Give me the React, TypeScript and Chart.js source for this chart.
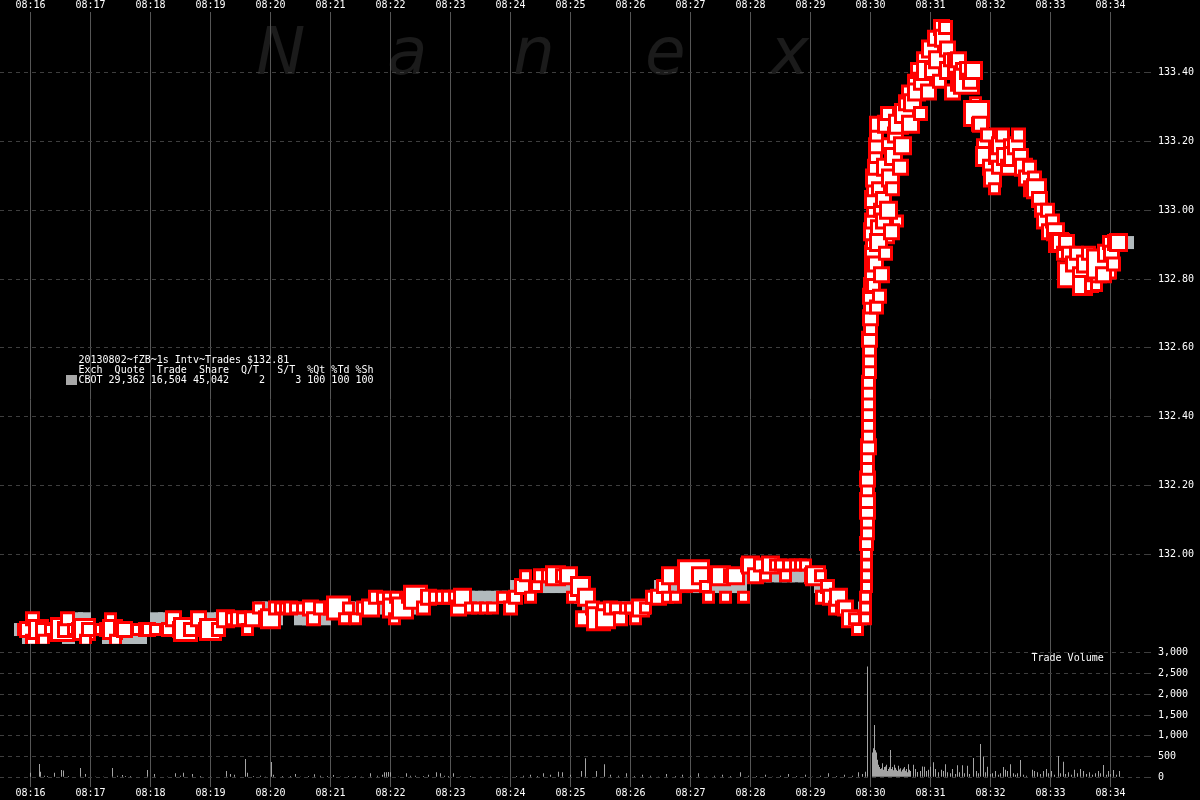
import React, { useEffect, useRef } from "react";
import { Chart, registerables } from "chart.js";

Chart.register(...registerables);

// ---------- labels ----------
const timeLabels = [
  "08:16", "08:17", "08:18", "08:19", "08:20", "08:21", "08:22", "08:23", "08:24", "08:25",
  "08:26", "08:27", "08:28", "08:29", "08:30", "08:31", "08:32", "08:33", "08:34",
];
const priceTicks = [132.0, 132.2, 132.4, 132.6, 132.8, 133.0, 133.2, 133.4];
const volumeTicks = [0, 500, 1000, 1500, 2000, 2500, 3000];

const legendTitle = "20130802~fZB~1s Intv~Trades $132.81";
const legendHeader = "Exch  Quote  Trade  Share  Q/T   S/T  %Qt %Td %Sh";
const legendRow = "CBOT 29,362 16,504 45,042     2     3 100 100 100";
const watermarkLetters = ["N", "a", "n", "e", "x"];
const volumeTitle = "Trade Volume";

// ---------- trades (seconds after 08:16:00, price, contracts) ----------
const tradeSec = [
  -7, -3, 1, 2, 8, 12, 13, 20, 27, 32,
  35, 37, 43, 48, 54, 55, 58, 70, 76, 80,
  82, 85, 90, 94, 107, 115, 118, 125, 138, 143,
  150, 155, 160, 168, 175, 180, 188, 195, 202, 208,
  213, 217, 222, 228, 236, 240, 245, 250, 255, 260,
  265, 272, 280, 283, 290, 300, 308, 314, 318, 325,
  333, 340, 345, 352, 358, 362, 364, 365, 372, 377,
  385, 393, 398, 405, 412, 418, 425, 428, 432, 440,
  447, 455, 462, 472, 480, 485, 492, 495, 500, 506,
  510, 518, 525, 532, 538, 542, 550, 553, 556, 562,
  568, 572, 575, 580, 585, 590, 595, 600, 605, 610,
  615, 622, 628, 633, 637, 640, 645, 651, 656, 663,
  670, 675, 678, 684, 690, 695, 700, 705, 713, 717,
  720, 725, 730, 735, 740, 745, 750, 755, 758, 765,
  770, 775, 782, 785, 790, 792, 797, 800, 805, 808,
  812, 815, 820, 824, 827, 835, 835, 835, 836, 836,
  836, 836, 836, 837, 837, 837, 837, 837, 837, 837,
  837, 838, 838, 838, 838, 838, 838, 838, 839, 839,
  839, 839, 840, 840, 840, 840, 841, 841, 841, 842,
  842, 842, 842, 843, 843, 844, 844, 845, 845, 846,
  846, 847, 848, 850, 852, 853, 855, 856, 857, 859,
  860, 862, 863, 865, 867, 868, 870, 872, 874, 876,
  878, 880, 882, 884, 886, 888, 890, 892, 894, 896,
  898, 900, 902, 905, 907, 909, 911, 913, 915, 917,
  918, 920, 922, 924, 926, 928, 930, 933, 936, 938,
  940, 943, 945, 946, 948, 950, 953, 955, 957, 960,
  962, 964, 966, 968, 970, 972, 975, 978, 980, 983,
  986, 988, 990, 993, 996, 999, 1001, 1004, 1006, 1009,
  1011, 1014, 1017, 1019, 1022, 1025, 1028, 1030, 1033, 1036,
  1038, 1040, 1043, 1046, 1050, 1052, 1055, 1058, 1061, 1063,
  1066, 1068, 1071, 1073, 1076, 1079, 1081, 1083, 1085, 1088,
  843, 845, 846, 848, 849, 851, 853, 855, 858, 861,
];

const tradePrice = [
  131.78125, 131.78125, 131.75, 131.8125, 131.78125, 131.78125, 131.75, 131.78125, 131.78125, 131.78125,
  131.78125, 131.8125, 131.78125, 131.78125, 131.78125, 131.75, 131.78125, 131.78125, 131.78125, 131.8125,
  131.78125, 131.75, 131.78125, 131.78125, 131.78125, 131.78125, 131.78125, 131.78125, 131.78125, 131.8125,
  131.78125, 131.78125, 131.78125, 131.8125, 131.78125, 131.78125, 131.78125, 131.8125, 131.8125, 131.8125,
  131.8125, 131.78125, 131.8125, 131.84375, 131.8125, 131.8125, 131.84375, 131.84375, 131.84375, 131.84375,
  131.84375, 131.84375, 131.84375, 131.8125, 131.84375, 131.84375, 131.84375, 131.8125, 131.84375, 131.8125,
  131.84375, 131.84375, 131.875, 131.875, 131.875, 131.84375, 131.8125, 131.875, 131.84375, 131.875,
  131.875, 131.84375, 131.875, 131.875, 131.875, 131.875, 131.875, 131.84375, 131.875, 131.84375,
  131.84375, 131.84375, 131.84375, 131.875, 131.84375, 131.875, 131.90625, 131.9375, 131.875, 131.90625,
  131.9375, 131.9375, 131.9375, 131.9375, 131.9375, 131.875, 131.90625, 131.8125, 131.875, 131.84375,
  131.8125, 131.84375, 131.8125, 131.84375, 131.84375, 131.8125, 131.84375, 131.84375, 131.8125, 131.84375,
  131.84375, 131.875, 131.875, 131.90625, 131.875, 131.9375, 131.875, 131.9375, 131.90625, 131.9375,
  131.9375, 131.90625, 131.875, 131.9375, 131.9375, 131.875, 131.9375, 131.9375, 131.875, 131.96875,
  131.96875, 131.9375, 131.96875, 131.9375, 131.96875, 131.96875, 131.96875, 131.9375, 131.96875, 131.96875,
  131.96875, 131.96875, 131.9375, 131.9375, 131.9375, 131.875, 131.90625, 131.875, 131.84375, 131.875,
  131.84375, 131.84375, 131.8125, 131.8125, 131.78125, 131.8125, 131.84375, 131.875, 131.90625, 131.9375,
  131.96875, 132, 132.03125, 132.0625, 132.09375, 132.125, 132.15625, 132.1875, 132.21875, 132.25,
  132.28125, 132.3125, 132.34375, 132.375, 132.40625, 132.4375, 132.46875, 132.5, 132.53125, 132.5625,
  132.59375, 132.625, 132.65625, 132.6875, 132.71875, 132.75, 132.78125, 132.8125, 132.84375, 132.875,
  132.90625, 132.9375, 132.96875, 133, 133.03125, 133.0625, 133.09375, 133.125, 133.15625, 133.1875,
  133.21875, 133.25, 133.0625, 133, 132.9375, 133.03125, 133.125, 133.25, 133.28125, 133.1875,
  133.09375, 133.0625, 133.15625, 133.21875, 132.96875, 133.25, 133.125, 133.1875, 133.28125, 133.3125,
  133.34375, 133.25, 133.3125, 133.375, 133.34375, 133.40625, 133.28125, 133.375, 133.4375, 133.40625,
  133.34375, 133.46875, 133.40625, 133.5, 133.4375, 133.375, 133.53125, 133.5, 133.53125, 133.46875,
  133.40625, 133.4375, 133.34375, 133.4375, 133.40625, 133.4375, 133.375, 133.40625, 133.375, 133.40625,
  133.375, 133.40625, 133.3125, 133.28125, 133.25, 133.25, 133.1875, 133.15625, 133.21875, 133.125,
  133.09375, 133.0625, 133.15625, 133.125, 133.1875, 133.21875, 133.15625, 133.125, 133.1875, 133.15625,
  133.1875, 133.21875, 133.15625, 133.125, 133.09375, 133.125, 133.0625, 133.09375, 133.0625, 133.03125,
  133, 132.96875, 133, 132.9375, 132.96875, 132.9375, 132.90625, 132.90625, 132.875, 132.90625,
  132.875, 132.8125, 132.84375, 132.875, 132.8125, 132.78125, 132.84375, 132.875, 132.78125, 132.8125,
  132.78125, 132.8125, 132.84375, 132.8125, 132.875, 132.90625, 132.875, 132.84375, 132.90625, 132.90625,
  132.78125, 132.84375, 132.71875, 132.90625, 132.75, 132.8125, 132.96875, 132.875, 133, 132.9375,
];

const tradeQty = [
  15, 60, 12, 40, 120, 30, 15, 15, 40, 250,
  60, 40, 15, 25, 200, 15, 30, 12, 30, 15,
  120, 15, 40, 60, 12, 25, 40, 12, 30, 60,
  50, 250, 40, 60, 40, 200, 30, 80, 40, 60,
  30, 12, 50, 15, 60, 120, 30, 20, 15, 25,
  20, 15, 60, 40, 25, 30, 250, 12, 15, 12,
  40, 80, 30, 15, 20, 120, 12, 20, 200, 15,
  250, 40, 60, 40, 30, 40, 30, 60, 80, 15,
  12, 12, 12, 20, 40, 30, 50, 20, 20, 15,
  30, 40, 150, 40, 80, 15, 150, 60, 80, 40,
  250, 15, 150, 40, 15, 30, 15, 15, 15, 80,
  20, 30, 60, 30, 15, 80, 15, 30, 15, 500,
  80, 12, 20, 40, 120, 20, 30, 80, 15, 40,
  80, 60, 40, 15, 80, 20, 15, 15, 20, 15,
  20, 15, 60, 150, 20, 30, 40, 60, 40, 80,
  30, 60, 80, 20, 15, 15, 12, 20, 20, 15,
  20, 15, 30, 40, 30, 60, 50, 40, 50, 30,
  40, 60, 30, 40, 30, 40, 30, 30, 40, 30,
  30, 60, 40, 60, 30, 60, 50, 40, 40, 60,
  40, 100, 60, 40, 80, 50, 100, 60, 40, 60,
  40, 60, 40, 30, 250, 60, 100, 80, 40, 60,
  80, 40, 100, 60, 12, 120, 60, 100, 150, 60,
  40, 100, 80, 40, 100, 60, 40, 80, 60, 120,
  60, 80, 60, 60, 100, 40, 60, 80, 40, 60,
  80, 40, 60, 40, 80, 60, 150, 60, 300, 100,
  60, 80, 20, 300, 30, 60, 40, 150, 40, 60,
  100, 20, 60, 40, 80, 30, 100, 60, 40, 150,
  80, 40, 60, 80, 60, 40, 60, 40, 150, 60,
  30, 60, 40, 60, 40, 80, 150, 80, 40, 60,
  30, 300, 60, 40, 60, 120, 80, 40, 30, 40,
  15, 60, 400, 60, 80, 40, 60, 30, 60, 80,
  40, 60, 30, 80, 40, 60, 60, 40, 100, 60,
];

// ---------- quotes (grey band) ----------
const quoteSec = [
  -10, -2, 6, 14, 22, 30, 38, 46, 54, 62,
  70, 78, 86, 94, 102, 110, 118, 126, 134, 142,
  150, 158, 166, 174, 182, 190, 198, 206, 214, 222,
  230, 238, 246, 254, 262, 270, 278, 286, 294, 302,
  310, 318, 326, 334, 342, 350, 358, 366, 374, 382,
  390, 398, 406, 414, 422, 430, 438, 446, 454, 462,
  470, 478, 486, 494, 502, 510, 518, 526, 534, 542,
  550, 558, 566, 574, 582, 590, 598, 606, 614, 622,
  630, 638, 646, 654, 662, 670, 678, 686, 694, 702,
  710, 718, 726, 734, 742, 750, 758, 766, 774, 782,
  790, 798, 806, 814, 822, 830, 834, 836, 838, 1090, 1097,
];
const quotePrice = [
  131.78125, 131.75, 131.78125, 131.78125, 131.78125, 131.78125, 131.75, 131.8125, 131.8125, 131.78125,
  131.78125, 131.75, 131.75, 131.75, 131.75, 131.75, 131.78125, 131.8125, 131.8125, 131.78125,
  131.78125, 131.78125, 131.78125, 131.78125, 131.8125, 131.8125, 131.8125, 131.8125, 131.8125, 131.8125,
  131.84375, 131.84375, 131.8125, 131.84375, 131.84375, 131.8125, 131.8125, 131.84375, 131.8125, 131.84375,
  131.84375, 131.84375, 131.84375, 131.84375, 131.84375, 131.84375, 131.84375, 131.84375, 131.84375, 131.84375,
  131.875, 131.875, 131.875, 131.875, 131.875, 131.875, 131.875, 131.875, 131.875, 131.875,
  131.875, 131.875, 131.90625, 131.90625, 131.90625, 131.90625, 131.90625, 131.90625, 131.90625, 131.90625,
  131.875, 131.84375, 131.8125, 131.8125, 131.8125, 131.84375, 131.84375, 131.84375, 131.84375, 131.875,
  131.90625, 131.90625, 131.90625, 131.90625, 131.90625, 131.90625, 131.90625, 131.90625, 131.90625, 131.90625,
  131.90625, 131.9375, 131.9375, 131.9375, 131.9375, 131.9375, 131.9375, 131.9375, 131.9375, 131.9375,
  131.90625, 131.875, 131.875, 131.84375, 131.8125, 131.8125, 131.84375, 131.9375, 132.375, 132.90625, 132.90625,
];

// ---------- trade volume per second ----------
const volSec = [
  0, 9, 10, 14, 17, 24, 31, 33, 38, 50,
  55, 65, 73, 82, 87, 92, 95, 100, 117, 124,
  137, 145, 150, 153, 162, 170, 180, 196, 200, 204,
  215, 217, 223, 230, 235, 241, 243, 252, 260, 265,
  270, 278, 284, 290, 297, 303, 310, 318, 325, 331,
  340, 347, 352, 354, 356, 358, 360, 368, 376, 380,
  385, 393, 398, 406, 410, 414, 418, 423, 430, 440,
  452, 460, 472, 486, 493, 500, 507, 513, 520, 528,
  532, 540, 551, 555, 566,
  574, 580, 588, 596, 604, 612, 620, 628, 636, 645,
  652, 660, 668, 676, 684, 692, 700, 710, 718, 726,
  735, 742, 750, 758, 766, 775, 782, 790, 798, 806,
  814, 822, 828, 832, 835,
  837, 842, 843, 844, 845, 846, 847, 848, 849, 850,
  852, 854, 856, 858, 860, 862, 864, 866, 868, 870,
  872, 874, 876, 878, 880, 883, 885, 887, 890, 892,
  894, 896, 898, 900, 903, 905, 908, 911, 913, 915,
  917, 920, 922, 925, 927, 929, 932, 934, 937, 939,
  943, 946, 948, 950, 953, 955, 957, 960, 962, 965,
  968, 970, 973, 975, 977, 980, 983, 985, 987, 990,
  993, 996, 1002, 1004, 1007, 1010, 1013, 1016, 1018, 1021,
  1024, 1028, 1030, 1033, 1035, 1038, 1041, 1044, 1047, 1050,
  1053, 1056, 1059, 1062, 1065, 1068, 1070, 1073, 1076, 1078,
  1080, 1083, 1086, 1089,
  851, 853, 855, 857, 859, 861, 863, 865, 867, 869,
  871, 873, 875, 877, 879,
];
const volQty = [
  112, 321, 136, 40, 30, 112, 177, 161, 30, 225,
  80, 20, 20, 225, 40, 56, 30, 30, 177, 80,
  20, 96, 40, 112, 80, 30, 20, 153, 80, 60,
  442, 112, 30, 40, 20, 369, 60, 30, 30, 80,
  20, 30, 72, 40, 30, 56, 20, 30, 30, 20,
  96, 40, 60, 120, 120, 130, 120, 20, 96, 40,
  40, 30, 60, 120, 96, 40, 30, 96, 20, 30,
  20, 20, 20, 30, 40, 60, 30, 96, 60, 136,
  120, 60, 153, 458, 153,
  313, 60, 40, 100, 30, 60, 40, 20, 80, 30,
  60, 40, 100, 20, 40, 60, 30, 120, 40, 30,
  60, 20, 40, 80, 30, 60, 20, 40, 100, 30,
  60, 40, 120, 80, 136,
  2666, 600, 700, 1260, 650, 600, 420, 300, 250, 200,
  340, 250, 300, 200, 660, 250, 300, 180, 280, 220,
  180, 250, 200, 313, 150, 300, 200, 130, 150, 260,
  257, 150, 180, 257, 360, 200, 120, 180, 150, 313,
  120, 100, 200, 80, 290, 120, 290, 100, 280, 80,
  466, 150, 100, 803, 498, 120, 257, 80, 100, 150,
  60, 100, 250, 180, 150, 313, 100, 60, 100, 418,
  60, 40, 180, 150, 120, 80, 150, 200, 100, 150,
  60, 514, 100, 377, 80, 120, 60, 180, 100, 200,
  150, 80, 120, 60, 100, 150, 100, 297, 60, 150,
  80, 176, 60, 150,
  220, 180, 260, 150, 240, 200, 170, 230, 150, 190,
  140, 210, 160, 120, 180,
];

const MONO = '"DejaVu Sans Mono", monospace';

export default function App() {
  const canvasRef = useRef<HTMLCanvasElement | null>(null);

  useEffect(() => {
    const canvas = canvasRef.current;
    if (!canvas) return;

    const sideOf = (q: number) => 2 * Math.round((6 + Math.sqrt(q) * 1.05) / 2);
    const tradeRadius = tradeQty.map((q) => sideOf(q) / Math.SQRT2);
    const tickFont = { family: MONO, size: 10 };

    const backgroundPlugin = {
      id: "bgWatermark",
      beforeDraw(chart: any) {
        const ctx = chart.ctx;
        ctx.save();
        ctx.fillStyle = "#000";
        ctx.fillRect(0, 0, chart.width, chart.height);
        ctx.fillStyle = "#1b1b1b";
        ctx.font = 'italic 66px "DejaVu Sans"';
        ctx.textBaseline = "alphabetic";
        const xs = [256, 387, 513, 645, 770];
        watermarkLetters.forEach((ch, i) => ctx.fillText(ch, xs[i], 74));
        ctx.restore();
      },
    };

    const overlayPlugin = {
      id: "overlayText",
      afterDraw(chart: any) {
        const ctx = chart.ctx;
        ctx.save();
        ctx.font = `10px ${MONO}`;
        ctx.textBaseline = "alphabetic";
        ctx.fillStyle = "#ffffff";
        ctx.fillText(legendTitle, 78.5, 363);
        ctx.fillText(legendHeader, 78.5, 373);
        ctx.fillText(legendRow, 78.5, 383);
        ctx.fillStyle = "#a8a8a8";
        ctx.fillRect(66, 375, 11, 10);
        ctx.fillStyle = "#ffffff";
        ctx.fillText(volumeTitle, 1031.5, 661);
        ctx.restore();
      },
    };

    const zeroPad = (s: any) => {
      s.paddingLeft = 0;
      s.paddingRight = 0;
      s.paddingTop = 0;
      s.paddingBottom = 0;
    };

    const xCommon = (position: "top" | "bottom", h: number, showGrid: boolean, pad: number) => ({
      type: "linear",
      position,
      min: -30.5,
      max: 1116.5,
      offset: false,
      afterBuildTicks: (s: any) => {
        s.ticks = timeLabels.map((_, i) => ({ value: i * 60 }));
      },
      afterFit: (s: any) => {
        s.height = h;
        zeroPad(s);
      },
      ticks: {
        callback: (v: any) => timeLabels[Math.round(Number(v) / 60)] ?? "",
        color: "#ffffff",
        font: tickFont,
        padding: pad,
        maxRotation: 0,
        minRotation: 0,
        autoSkip: false,
      },
      grid: showGrid
        ? { display: true, offset: false, color: "#555555", lineWidth: 1, drawTicks: false }
        : { display: false, offset: false },
      border: { display: false },
    });

    const yGrid = {
      color: "#3e3e3e",
      lineWidth: 1,
      drawTicks: true,
      tickLength: 8,
      tickColor: "#3e3e3e",
      tickBorderDash: [4, 4],
    };

    const chart = new Chart(canvas, {
      type: "scatter",
      data: {
        datasets: [
          {
            label: "Trades",
            type: "scatter",
            data: tradeSec.map((s, i) => ({ x: s, y: tradePrice[i] })),
            xAxisID: "x",
            yAxisID: "y",
            pointStyle: "rect",
            pointRadius: tradeRadius,
            pointBackgroundColor: "#ffffff",
            pointBorderColor: "#ff0000",
            pointBorderWidth: 3,
            showLine: false,
            order: 0,
          } as any,
          {
            label: "Quotes",
            type: "scatter",
            data: quoteSec.map((s, i) => ({ x: s, y: quotePrice[i] })),
            xAxisID: "x",
            yAxisID: "y",
            pointStyle: "rect",
            pointRadius: 13 / Math.SQRT2,
            pointBackgroundColor: "#b2babd",
            pointBorderWidth: 0,
            showLine: false,
            order: 1,
          } as any,
          {
            label: "Volume",
            type: "bar",
            data: volSec.map((s, i) => ({ x: s, y: volQty[i] })),
            xAxisID: "x",
            yAxisID: "yv",
            backgroundColor: "#a4a4a4",
            borderWidth: 0,
            barThickness: 1,
            inflateAmount: 0,
            grouped: false,
            order: 2,
          } as any,
        ],
      },
      options: {
        responsive: false,
        animation: false,
        devicePixelRatio: 1,
        events: [],
        layout: { padding: 0, autoPadding: false },
        plugins: {
          legend: { display: false },
          tooltip: { enabled: false },
          title: { display: false },
        },
        scales: {
          x: xCommon("bottom", 13, true, 0),
          xTop: xCommon("top", 12, false, -7),
          y: {
            type: "linear",
            position: "right",
            stack: "right",
            stackWeight: 632,
            min: 131.7392,
            max: 133.5765,
            offset: false,
            afterBuildTicks: (s: any) => {
              s.ticks = priceTicks.map((v) => ({ value: v }));
            },
            afterFit: (s: any) => {
              s.width = 53;
              zeroPad(s);
            },
            ticks: {
              callback: (v: any) => Number(v).toFixed(2),
              color: "#ffffff",
              font: tickFont,
              padding: 3,
              autoSkip: false,
            },
            grid: yGrid,
            border: { display: false, dash: [4, 4] },
          },
          yv: {
            type: "linear",
            position: "right",
            stack: "right",
            stackWeight: 143,
            min: -233.6,
            max: 3209.7,
            offset: false,
            afterBuildTicks: (s: any) => {
              s.ticks = volumeTicks.map((v) => ({ value: v }));
            },
            afterFit: (s: any) => {
              s.width = 53;
              zeroPad(s);
            },
            ticks: {
              callback: (v: any) => Number(v).toLocaleString("en-US"),
              color: "#ffffff",
              font: tickFont,
              padding: 3,
              autoSkip: false,
            },
            grid: yGrid,
            border: { display: false, dash: [4, 4] },
          },
        } as any,
      },
      plugins: [backgroundPlugin, overlayPlugin],
    } as any);

    return () => {
      chart.destroy();
    };
  }, []);

  return (
    <div style={{ position: "absolute", left: 0, top: 0, width: 1200, height: 800, background: "#000" }}>
      <canvas ref={canvasRef} width={1200} height={800} style={{ display: "block" }} />
    </div>
  );
}
